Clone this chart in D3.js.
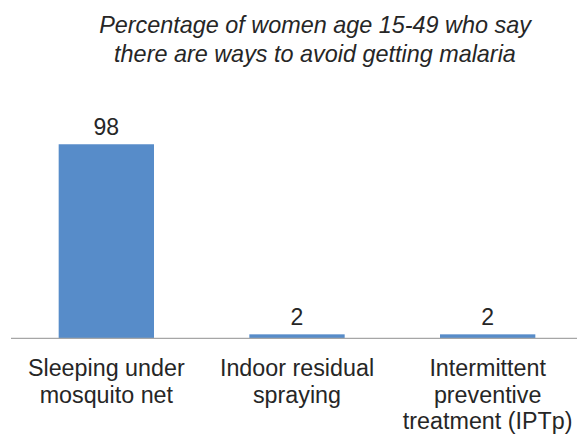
<!DOCTYPE html>
<html>
<head>
<meta charset="utf-8">
<script src="https://cdn.jsdelivr.net/npm/d3@7"></script>
<style>
html,body{margin:0;padding:0;background:#fff;}
svg{display:block;font-family:"Liberation Sans",Arial,sans-serif;}
</style>
</head>
<body>
<svg id="chart" width="577" height="435"></svg>
<script>
const categories = [
  ["Sleeping under", "mosquito net"],
  ["Indoor residual", "spraying"],
  ["Intermittent", "preventive", "treatment (IPTp)"]
];
const values = [98, 2, 2];
const titleLines = [
  "Percentage of women age 15-49 who say",
  "there are ways to avoid getting malaria"
];

const svg = d3.select("#chart");
const textColor = "#262626";

const x = d3.scaleBand()
  .domain(d3.range(categories.length))
  .range([11, 583])
  .paddingInner(0.5)
  .paddingOuter(0.25);

const y = d3.scaleLinear().domain([0, 100]).range([338.3, 140.3]);

// title
svg.append("text")
  .attr("x", 315).attr("y", 33.3)
  .attr("text-anchor", "middle")
  .attr("font-style", "italic")
  .attr("font-size", 23.4)
  .attr("fill", textColor)
  .selectAll("tspan").data(titleLines).join("tspan")
  .attr("x", 315)
  .attr("dy", (d, i) => i === 0 ? 0 : 28.4)
  .text(d => d);

// bars
svg.append("g").selectAll("rect").data(values).join("rect")
  .attr("x", (d, i) => x(i))
  .attr("width", x.bandwidth())
  .attr("y", d => y(d))
  .attr("height", d => y(0) - y(d))
  .attr("fill", "#578CC9");

// value labels
svg.append("g").selectAll("text").data(values).join("text")
  .attr("x", (d, i) => x(i) + x.bandwidth() / 2)
  .attr("y", d => y(d) - 9.5)
  .attr("text-anchor", "middle")
  .attr("font-size", 23)
  .attr("fill", textColor)
  .text(d => d);

// axis
const axis = d3.axisBottom(x).tickSize(0).tickFormat("");
const ax = svg.append("g").attr("transform", `translate(0,${y(0)})`).call(axis);
ax.select(".domain").attr("stroke", "#A6A6A6").attr("stroke-width", 1.3)
  .attr("d", "M11,0H577");

// category labels
const cat = svg.append("g").selectAll("text").data(categories).join("text")
  .attr("text-anchor", "middle")
  .attr("font-size", 23.3)
  .attr("fill", textColor)
  .attr("y", 376);
cat.each(function(d, i) {
  d3.select(this).selectAll("tspan").data(d).join("tspan")
    .attr("x", x(i) + x.bandwidth() / 2)
    .attr("dy", (t, j) => j === 0 ? 0 : 26.5)
    .text(t => t);
});
</script>
</body>
</html>
